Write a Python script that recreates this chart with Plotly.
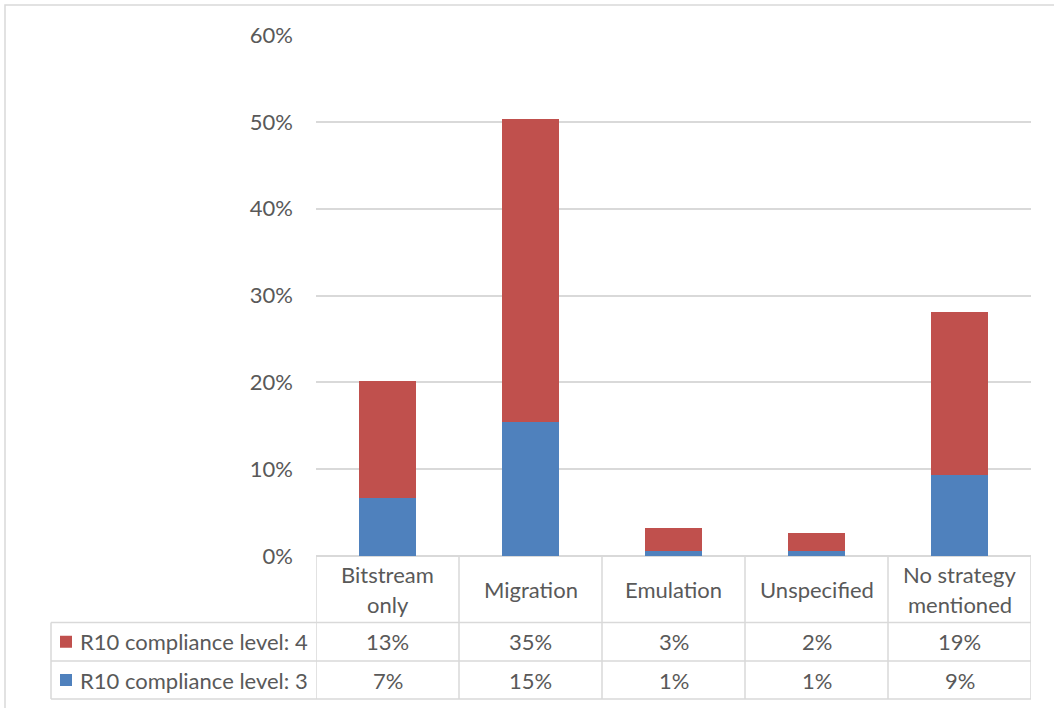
import plotly.graph_objects as go

# Preservation strategy categories and the share of repositories at each R10 compliance level
categories = ["Bitstream only", "Migration", "Emulation", "Unspecified", "No strategy mentioned"]
header_lines = [["Bitstream", "only"], ["Migration"], ["Emulation"], ["Unspecified"], ["No strategy", "mentioned"]]
level3 = [0.067, 0.154, 0.0054, 0.0054, 0.093]
level4 = [0.134, 0.349, 0.0273, 0.0207, 0.1885]
series_names = ["R10 compliance level: 4", "R10 compliance level: 3"]
y_ticks = [0, 0.1, 0.2, 0.3, 0.4, 0.5, 0.6]

RED = "#C0504D"
BLUE = "#4F81BD"
GRID = "#D9D9D9"
TEXT = "#595959"
FONT = "Lato"
FS = 22

W, H = 1054, 708
ML, MR, MT, MB = 316, 23, 35, 152
PW, PH = W - ML - MR, H - MT - MB


def px_x(px):
    return (px - ML) / PW


def px_y(py):
    return (H - MB - py) / PH


x_idx = list(range(len(categories)))

fig = go.Figure()
fig.add_trace(go.Bar(x=x_idx, y=level3, name=series_names[1], marker=dict(color=BLUE, line_width=0),
                     width=0.4, showlegend=False, hoverinfo="y"))
fig.add_trace(go.Bar(x=x_idx, y=level4, name=series_names[0], marker=dict(color=RED, line_width=0),
                     width=0.4, showlegend=False, hoverinfo="y"))

shapes = []
annotations = []

# data table geometry (pixel rows below the plot)
row_header_mid = 589
row1_top, row2_top, table_bottom = 622.5, 661, 699
legend_left = 51

# horizontal table rules
for py in (row1_top, row2_top, table_bottom):
    shapes.append(dict(type="line", xref="paper", yref="paper", x0=px_x(legend_left), x1=1,
                       y0=px_y(py), y1=px_y(py), line=dict(color=GRID, width=1.5)))
# vertical rules at category boundaries
for i in range(len(categories) + 1):
    shapes.append(dict(type="line", xref="x", yref="paper", x0=i - 0.5, x1=i - 0.5,
                       y0=0, y1=px_y(table_bottom), line=dict(color=GRID, width=1.5)))
shapes.append(dict(type="line", xref="paper", yref="paper", x0=px_x(legend_left), x1=px_x(legend_left),
                   y0=px_y(row1_top), y1=px_y(table_bottom), line=dict(color=GRID, width=1.5)))

# chart border
shapes.append(dict(type="rect", xref="paper", yref="paper", x0=px_x(5), x1=px_x(W + 10),
                   y0=px_y(H + 10), y1=px_y(5), line=dict(color=GRID, width=1.5), layer="below"))

# header row: category names
for i, lines in enumerate(header_lines):
    n = len(lines)
    for k, line in enumerate(lines):
        py = row_header_mid + (k - (n - 1) / 2) * 30
        annotations.append(dict(x=i, y=px_y(py), xref="x", yref="paper", text=line, showarrow=False,
                                xanchor="center", yanchor="middle", font=dict(family=FONT, size=FS, color=TEXT)))

# value rows with legend keys
rows = [(series_names[0], level4, RED, (row1_top + row2_top) / 2),
        (series_names[1], level3, BLUE, (row2_top + table_bottom) / 2)]
for name, values, color, py in rows:
    shapes.append(dict(type="rect", xref="paper", yref="paper", x0=px_x(60), x1=px_x(72),
                       y0=px_y(py + 6), y1=px_y(py - 6), fillcolor=color, line=dict(width=0)))
    annotations.append(dict(x=px_x(78), y=px_y(py), xref="paper", yref="paper", text=name, showarrow=False,
                            xanchor="left", yanchor="middle", font=dict(family=FONT, size=FS, color=TEXT)))
    for i, v in enumerate(values):
        annotations.append(dict(x=i, y=px_y(py), xref="x", yref="paper", text=f"{v:.0%}", showarrow=False,
                                xanchor="center", yanchor="middle", font=dict(family=FONT, size=FS, color=TEXT)))

fig.update_layout(
    width=W, height=H,
    margin=dict(l=ML, r=MR, t=MT, b=MB, pad=0),
    barmode="stack",
    plot_bgcolor="white", paper_bgcolor="white",
    font=dict(family=FONT, size=FS, color=TEXT),
    shapes=shapes, annotations=annotations,
    xaxis=dict(range=[-0.5, len(categories) - 0.5], showticklabels=False, showgrid=False,
               zeroline=False, showline=False, ticks=""),
    yaxis=dict(range=[0, 0.6], tickvals=y_ticks, tickformat=".0%", showgrid=True, gridcolor=GRID,
               gridwidth=1.5, zeroline=True, zerolinecolor=GRID, zerolinewidth=1.5, showline=False,
               ticks="", ticklabelstandoff=22, tickfont=dict(family=FONT, size=FS, color=TEXT)),
)

fig.write_html("out.html")
